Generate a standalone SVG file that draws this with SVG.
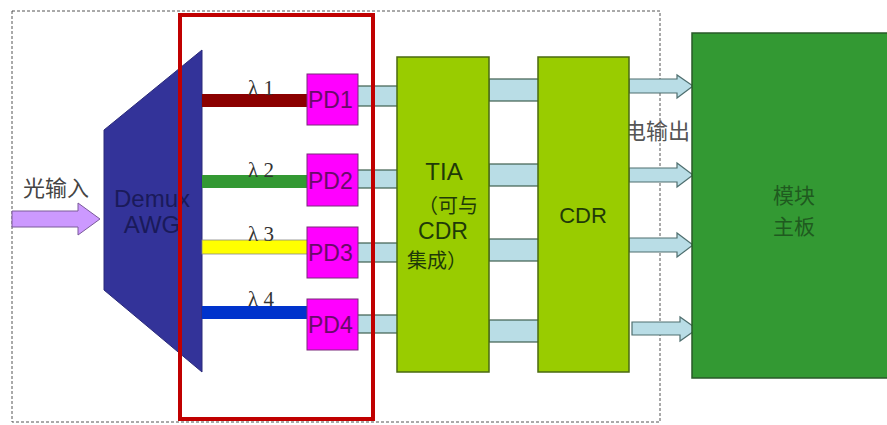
<svg xmlns="http://www.w3.org/2000/svg" width="887" height="425" viewBox="0 0 887 425">
<style>
.cn{font-family:"Noto Sans CJK SC","Liberation Sans",sans-serif}
.ar{font-family:"Liberation Sans","Noto Sans CJK SC",sans-serif}
.lam{font-family:"Liberation Serif",serif;font-size:21px;fill:#333}
.pd{fill:#ff00ff;stroke:#7a2a7a;stroke-width:1}
.pdt{font-family:"Liberation Sans",sans-serif;font-size:23px;fill:#6a0a6a}
.bus{fill:#b9dde6;stroke:#3f5f4f;stroke-width:1.2}
.blk{fill:#99cc00;stroke:#4a6a10;stroke-width:1.5}
.blkt{fill:#1f3a08;text-anchor:middle}
.oarr{fill:#b9dde6;stroke:#4f6f6f;stroke-width:1.2}
</style>
<rect x="12" y="11" width="648" height="411" fill="none" stroke="#555" stroke-width="1" stroke-dasharray="3,2"/>
<g id="input">
<polygon points="12,211 78,211 78,203 100,219 78,235 78,227 12,227" fill="#cc99ff" stroke="#7a5a9a" stroke-width="1"/>
<text x="23" y="196" class="cn" font-size="22" fill="#444">光输入</text>
</g>
<g id="demux">
<polygon points="104,130 202,50 202,372 104,290" fill="#333399" stroke="#2a2a7a" stroke-width="1"/>
<text x="152" y="207" class="ar" font-size="24" fill="#1a1a5a" text-anchor="middle">Demux</text>
<text x="152" y="233" class="ar" font-size="24" fill="#1a1a5a" text-anchor="middle">AWG</text>
</g>
<g id="fibers">
<rect x="202" y="94" width="106" height="13" fill="#8b0000"/>
<rect x="202" y="175" width="106" height="13" fill="#339933"/>
<rect x="202" y="240" width="106" height="14" fill="#ffff00" stroke="#888" stroke-width="0.8"/>
<rect x="202" y="306" width="106" height="13" fill="#0033cc"/>
<text x="248" y="95" class="lam">λ 1</text>
<text x="248" y="177" class="lam">λ 2</text>
<text x="248" y="241" class="lam">λ 3</text>
<text x="248" y="306" class="lam">λ 4</text>
</g>
<g id="connectors">
<rect x="357" y="86" width="41" height="20" class="bus"/>
<rect x="357" y="170" width="41" height="18" class="bus"/>
<rect x="357" y="243" width="41" height="19" class="bus"/>
<rect x="357" y="315" width="41" height="18" class="bus"/>
<rect x="489" y="79" width="50" height="22" class="bus"/>
<rect x="489" y="164" width="50" height="22" class="bus"/>
<rect x="489" y="239" width="50" height="22" class="bus"/>
<rect x="489" y="320" width="50" height="22" class="bus"/>
<polygon points="629,79 677,79 677,75 693,86 677,98 677,93 629,93" class="oarr"/>
<polygon points="629,168 677,168 677,163 693,175 677,187 677,182 629,182" class="oarr"/>
<polygon points="629,238 677,238 677,233 693,245 677,257 677,252 629,252" class="oarr"/>
<polygon points="632,322 680,322 680,317 697,329 680,341 680,335 632,335" class="oarr"/>
<text x="624" y="139" class="cn" font-size="22" fill="#555">电输出</text>
</g>
<g id="pd1"><rect x="307" y="74" width="51" height="51" class="pd"/><text x="308" y="108" class="pdt">PD1</text></g>
<g id="pd2"><rect x="307" y="154" width="51" height="52" class="pd"/><text x="308" y="189" class="pdt">PD2</text></g>
<g id="pd3"><rect x="307" y="227" width="51" height="51" class="pd"/><text x="308" y="261" class="pdt">PD3</text></g>
<g id="pd4"><rect x="307" y="299" width="51" height="51" class="pd"/><text x="308" y="333" class="pdt">PD4</text></g>
<g id="tia">
<rect x="397" y="57" width="92" height="315" class="blk"/>
<text x="444" y="180" class="ar blkt" font-size="24">TIA</text>
<text x="448" y="213" class="cn blkt" font-size="20">（可与</text>
<text x="443" y="239" class="ar blkt" font-size="23">CDR</text>
<text x="437" y="268" class="cn blkt" font-size="20">集成）</text>
</g>
<g id="cdr">
<rect x="538" y="57" width="91" height="315" class="blk"/>
<text x="583" y="223" class="ar blkt" font-size="22">CDR</text>
</g>
<g id="mainboard">
<rect x="692" y="33" width="196" height="345" fill="#339933" stroke="#2a5a2a" stroke-width="1.5"/>
<text x="794" y="203" class="cn" font-size="21" fill="#1f5a1f" text-anchor="middle">模块</text>
<text x="794" y="234" class="cn" font-size="21" fill="#1f5a1f" text-anchor="middle">主板</text>
</g>
<rect x="180" y="15" width="193" height="404" fill="none" stroke="#c00000" stroke-width="4"/>
</svg>
